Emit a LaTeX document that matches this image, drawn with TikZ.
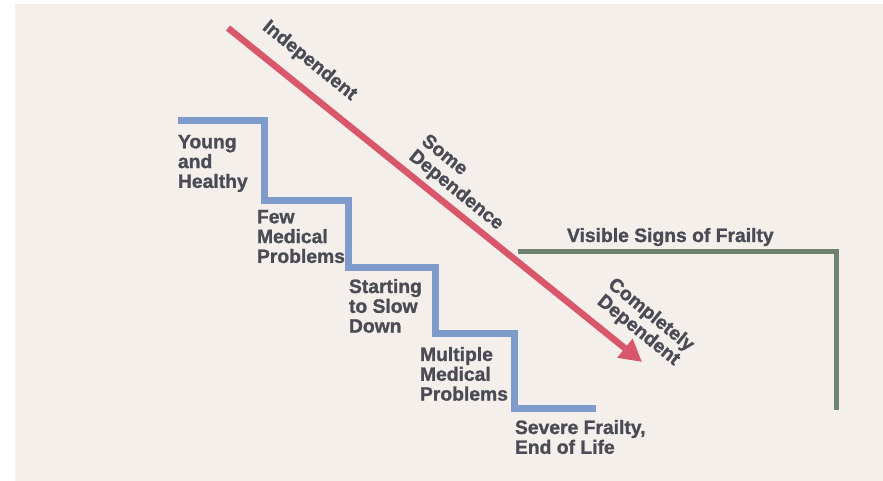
\documentclass[tikz,border=0pt]{standalone}
\usepackage{fontspec}
\setmainfont{Liberation Sans}[BoldFeatures={FakeBold=1.2}]
\usetikzlibrary{arrows.meta}
\definecolor{bgbeige}{HTML}{F4EFEB}
\definecolor{stairblue}{HTML}{7E9BCB}
\definecolor{arrowred}{HTML}{D9576B}
\definecolor{frailgreen}{HTML}{6E8270}
\definecolor{txtgray}{HTML}{4A4B55}
\tikzset{
  lbl/.style={inner sep=0pt, outer sep=0pt, text=txtgray, align=left,
    font=\fontsize{19.3}{19.8}\selectfont\bfseries},
  rlbl/.style={lbl, rotate=-38.9},
  stairline/.style={draw=stairblue, line width=7pt, line join=miter},
  depline/.style={draw=arrowred, line width=6.5pt, -{Triangle[length=22pt,width=23pt]}},
  frailline/.style={draw=frailgreen, line width=5pt, line join=miter}
}
\begin{document}
\begin{tikzpicture}[x=1pt,y=-1pt]
\useasboundingbox (0,0) rectangle (883,481);
\fill[white] (0,0) rectangle (883,481);
\fill[bgbeige] (15,4) rectangle (883,481);
% staircase
\coordinate (s0) at (178,121);
\coordinate (s1) at (264,201);
\coordinate (s2) at (348,267);
\coordinate (s3) at (435,333);
\coordinate (s4) at (514,408);
\coordinate (s5) at (596,408);
\draw[stairline] (s0) -| (s1) -| (s2) -| (s3) -| (s4) -- (s5);
% frailty bracket
\coordinate (f0) at (518,251);
\coordinate (f1) at (836,251);
\coordinate (f2) at (836,410);
\draw[frailline] (f0) -- (f1) -- (f2);
% dependence arrow
\coordinate (a0) at (228,28);
\coordinate (a1) at (642,362);
\draw[depline] (a0) -- (a1);
% stair labels
\node[lbl, anchor=north west] (young) at (178,135) {Young\\and\\Healthy};
\node[lbl, anchor=north west] (few) at (257,210) {Few\\Medical\\Problems};
\node[lbl, anchor=north west] (slow) at (349,279) {Starting\\to Slow\\Down};
\node[lbl, anchor=north west] (multi) at (420,347) {Multiple\\Medical\\Problems};
\node[lbl, anchor=north west] (severe) at (515,420) {Severe Frailty,\\End of Life};
\node[lbl, anchor=north west] (visible) at (567,228) {Visible Signs of Frailty};
% arrow labels
\node[rlbl] (indep) at (309.5,61) {Independent};
\node[rlbl, align=left] (some) at (462,183) {Some\\Dependence};
\node[rlbl, align=center] (compl) at (644.5,323) {Completely\\Dependent};
\end{tikzpicture}
\end{document}
